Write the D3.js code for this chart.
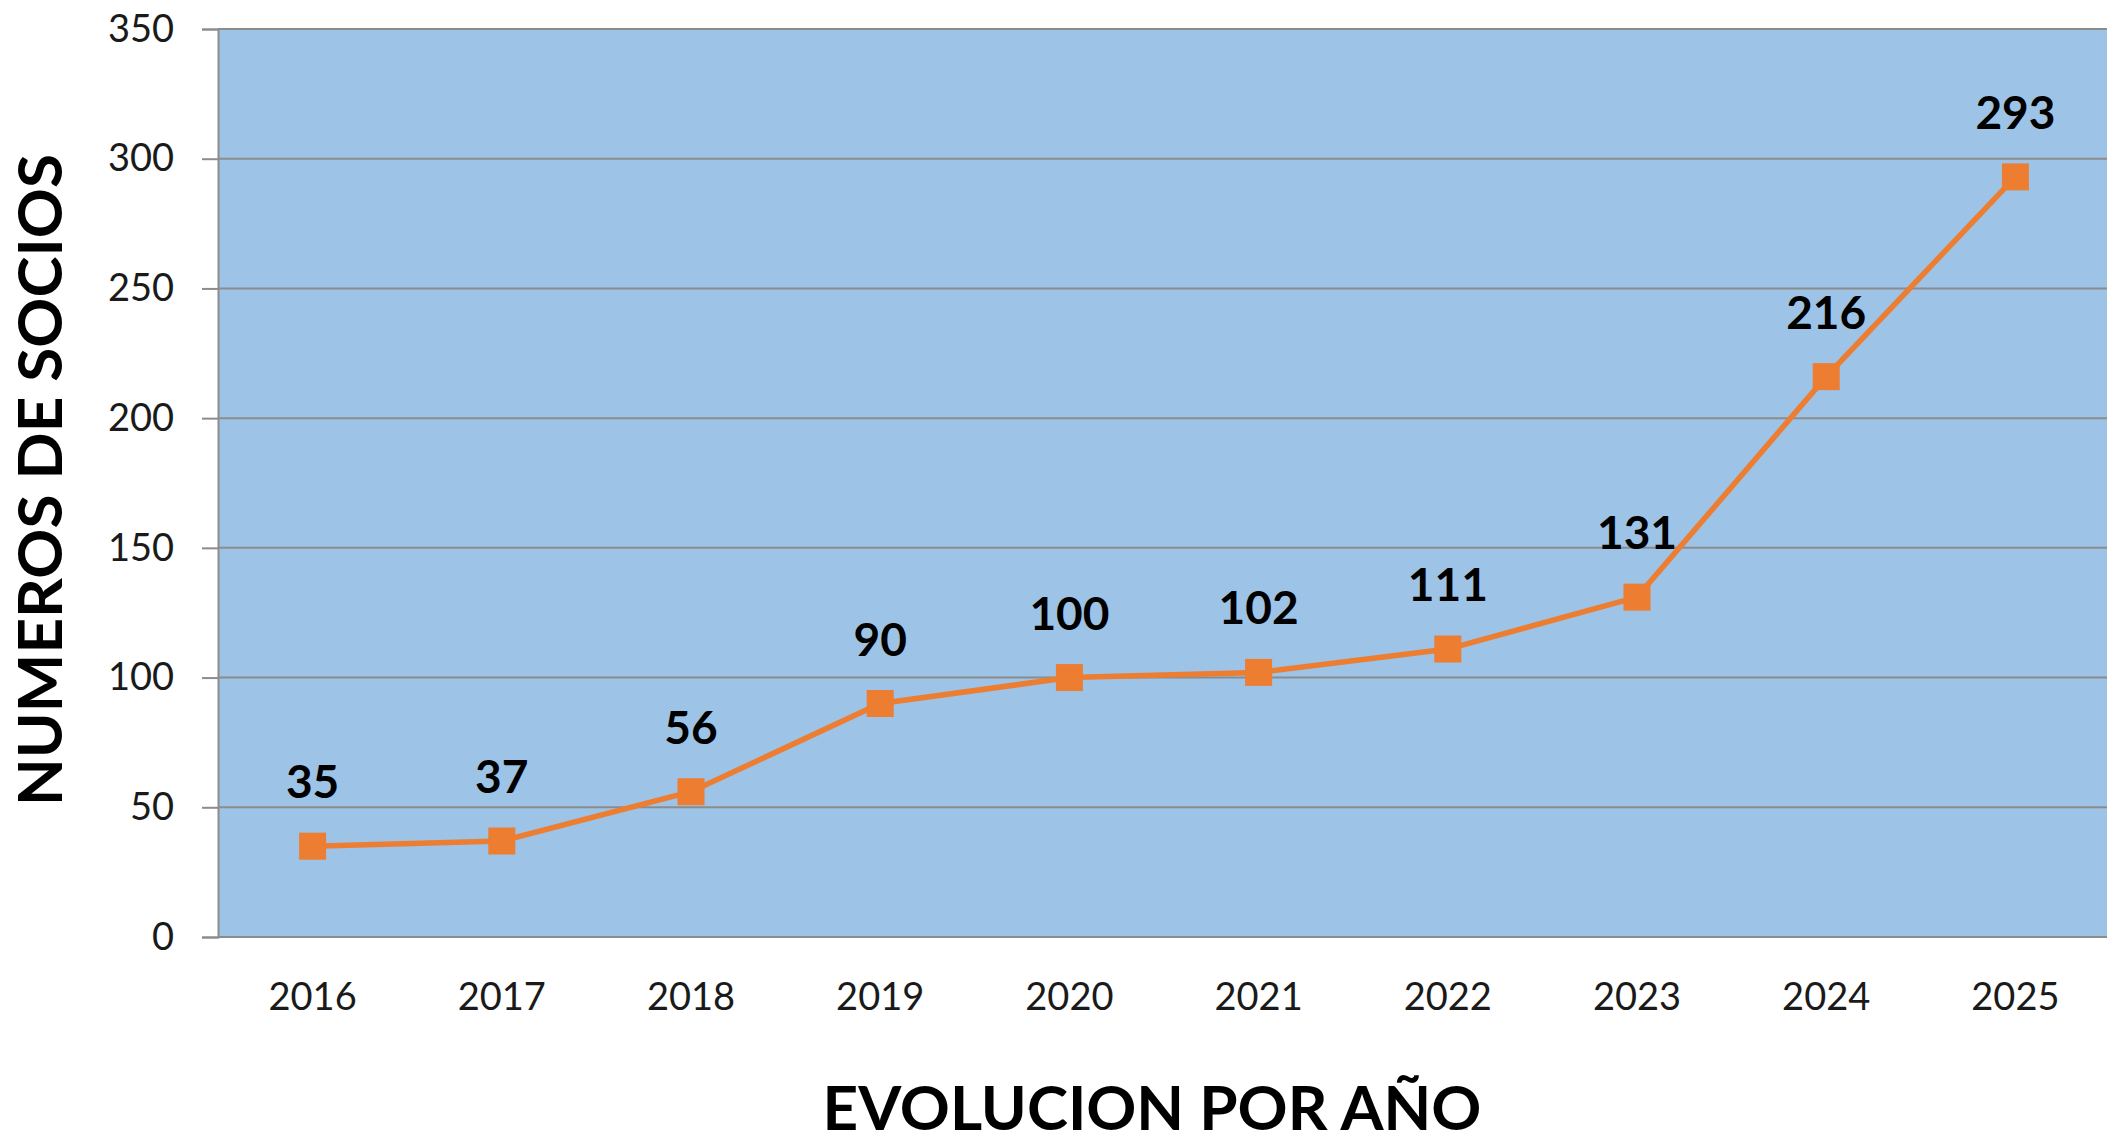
<!DOCTYPE html>
<html>
<head>
<meta charset="utf-8">
<script src="https://cdnjs.cloudflare.com/ajax/libs/d3/7.8.5/d3.min.js"></script>
<style>
  html, body { margin: 0; padding: 0; background: #fff; }
  svg { display: block; }
  text { font-family: Lato, "Open Sans", sans-serif; }
</style>
</head>
<body>
<div id="chart"></div>
<script>
var years = ["2016", "2017", "2018", "2019", "2020", "2021", "2022", "2023", "2024", "2025"];
var socios = [35, 37, 56, 90, 100, 102, 111, 131, 216, 293];
var yTicks = [0, 50, 100, 150, 200, 250, 300, 350];

var W = 2107, H = 1142;
var plotLeft = 218, plotTop = 29, plotRight = 2110, plotBottom = 937;

var svg = d3.select("#chart").append("svg")
    .attr("width", W)
    .attr("height", H);

var x = d3.scaleBand()
    .domain(years)
    .range([plotLeft, plotRight]);

var y = d3.scaleLinear()
    .domain([0, 350])
    .range([plotBottom, plotTop]);

// plot background
svg.append("rect")
    .attr("x", plotLeft)
    .attr("y", plotTop)
    .attr("width", plotRight - plotLeft)
    .attr("height", plotBottom - plotTop)
    .attr("fill", "#9DC3E6");

// gridlines
svg.append("g").selectAll("line.grid")
    .data(yTicks)
    .enter().append("line")
    .attr("class", "grid")
    .attr("x1", plotLeft)
    .attr("x2", plotRight)
    .attr("y1", function(d) { return y(d); })
    .attr("y2", function(d) { return y(d); })
    .attr("stroke", "#8c8c8c")
    .attr("stroke-width", 2);

// y axis
var yAxis = d3.axisLeft(y)
    .tickValues(yTicks)
    .tickSize(16)
    .tickPadding(28);

var gy = svg.append("g")
    .attr("transform", "translate(" + plotLeft + ",0)")
    .call(yAxis);
gy.select(".domain").attr("stroke", "#8c8c8c").attr("stroke-width", 2);
gy.selectAll(".tick line").attr("stroke", "#8c8c8c").attr("stroke-width", 2);
gy.selectAll(".tick text")
    .attr("fill", "#1a1a1a")
    .style("font-size", "38px");

// x axis
var xAxis = d3.axisBottom(x).tickSize(0).tickPadding(46);
var gx = svg.append("g")
    .attr("transform", "translate(0," + plotBottom + ")")
    .call(xAxis);
gx.select(".domain").remove();
gx.selectAll(".tick text")
    .attr("fill", "#1a1a1a")
    .style("font-size", "38px");

// line
var line = d3.line()
    .x(function(d, i) { return x(years[i]) + x.bandwidth() / 2; })
    .y(function(d) { return y(d); });

svg.append("path")
    .datum(socios)
    .attr("d", line)
    .attr("fill", "none")
    .attr("stroke", "#ED7D31")
    .attr("stroke-width", 5.5);

// markers
svg.selectAll("rect.marker")
    .data(socios)
    .enter().append("rect")
    .attr("class", "marker")
    .attr("x", function(d, i) { return x(years[i]) + x.bandwidth() / 2 - 13.5; })
    .attr("y", function(d) { return y(d) - 13.5; })
    .attr("width", 27)
    .attr("height", 27)
    .attr("fill", "#ED7D31");

// data labels
svg.selectAll("text.label")
    .data(socios)
    .enter().append("text")
    .attr("class", "label")
    .attr("x", function(d, i) { return x(years[i]) + x.bandwidth() / 2; })
    .attr("y", function(d) { return y(d) - 48; })
    .attr("text-anchor", "middle")
    .attr("font-weight", "bold")
    .attr("font-size", "46px")
    .attr("fill", "#000")
    .text(function(d) { return d; });

// axis titles
svg.append("text")
    .attr("transform", "translate(62,480)rotate(-90)")
    .attr("text-anchor", "middle")
    .attr("font-weight", "bold")
    .attr("font-size", "62px")
    .attr("fill", "#000")
    .text("NUMEROS DE SOCIOS");

svg.append("text")
    .attr("x", 1152)
    .attr("y", 1130)
    .attr("text-anchor", "middle")
    .attr("font-weight", "bold")
    .attr("font-size", "62px")
    .attr("fill", "#000")
    .text("EVOLUCION POR AÑO");
</script>
</body>
</html>
